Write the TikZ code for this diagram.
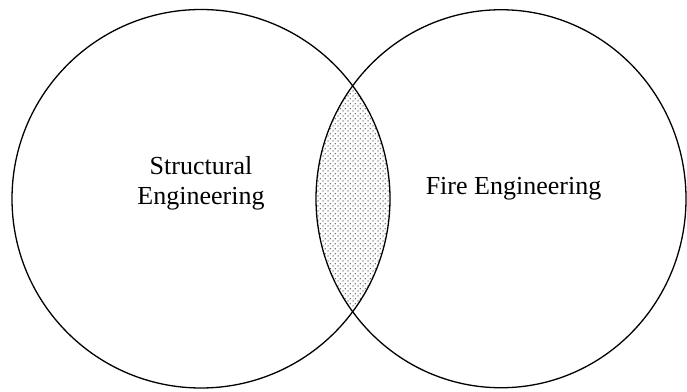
\documentclass[tikz,border=0pt]{standalone}
\usepackage{fontspec}
\setmainfont{Liberation Serif}
\usetikzlibrary{patterns.meta}
\tikzdeclarepattern{
  name=lensdots,
  type=uncolored,
  bounding box={(0pt,0pt) and (4.6pt,4.6pt)},
  tile size={(4.6pt,4.6pt)},
  code={
    \fill (1.15pt,1.15pt) circle (0.7pt);
    \fill (3.45pt,3.45pt) circle (0.7pt);
  }
}
\tikzset{
  setline/.style={line width=1.3pt, black},
  lbl/.style={font=\fontsize{26}{30}\selectfont, anchor=base, inner sep=0pt, align=center}
}
\begin{document}
\begin{tikzpicture}[x=1pt,y=1pt]
\useasboundingbox (0,0) rectangle (687,391);
\coordinate (cl) at (201,192.25);
\coordinate (cr) at (501,192.25);
\begin{scope}
  \clip (cl) ellipse (189 and 189.25);
  \fill[pattern=lensdots, pattern color=black!75] (cr) ellipse (185 and 189);
\end{scope}
\draw[setline] (cl) ellipse (189 and 189.25);
\draw[setline] (cr) ellipse (185 and 189);
\node[lbl] (s1) at (201,216) {Structural};
\node[lbl] (s2) at (201,186) {Engineering};
\node[lbl] (f) at (513.5,196) {Fire Engineering};
\end{tikzpicture}
\end{document}
